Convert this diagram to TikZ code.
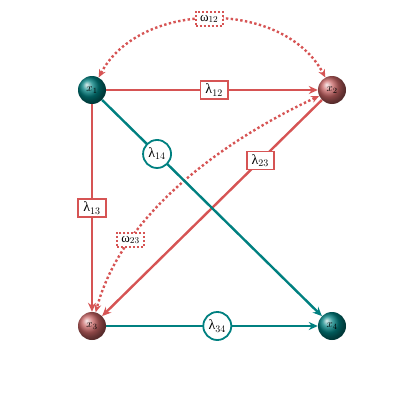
\documentclass[tikz,border=0pt]{standalone}
\usepackage{fontspec}
\newfontfamily\grk{Liberation Serif}
\usetikzlibrary{arrows.meta,shadings}
\definecolor{myred}{RGB}{214,84,84}
\definecolor{myteal}{RGB}{0,128,128}
\definecolor{ballred}{RGB}{200,100,100}
\definecolor{ballteal}{RGB}{0,128,128}
\begin{document}
\begin{tikzpicture}[x=1pt,y=-1pt,
 ball/.style={circle,minimum size=28pt,inner sep=0pt,text=black,font=\fontsize{11}{12}\selectfont},
 tealball/.style={ball,ball color=ballteal},
 redball/.style={ball,ball color=ballred},
 redarrow/.style={draw=myred,line width=2.4pt,-{Stealth[length=9pt,width=8pt]}},
 tealarrow/.style={draw=myteal,line width=2.4pt,-{Stealth[length=9pt,width=8pt]}},
 dotarrow/.style={draw=myred,line width=2.4pt,dash pattern=on 2.4pt off 2.4pt,{Stealth[length=8pt,width=7pt]}-{Stealth[length=8pt,width=7pt]}},
 rlab/.style={draw=myred,fill=white,line width=1.8pt,solid,rectangle,inner xsep=5pt,inner ysep=3pt,font=\fontsize{14}{16}\selectfont},
 tlab/.style={draw=myteal,fill=white,line width=1.8pt,circle,minimum size=28pt,inner sep=1pt,font=\fontsize{14}{16}\selectfont},
 wlab/.style={draw=myred,fill=white,line width=2pt,dash pattern=on 2pt off 2pt,rectangle,inner xsep=4.5pt,inner ysep=3pt,font=\fontsize{13}{15}\selectfont}
]
\useasboundingbox (0,0) rectangle (420,420);
\node[tealball] (x1) at (92,90) {$x_1$};
\node[redball] (x2) at (332,90) {$x_2$};
\node[redball] (x3) at (92,326) {$x_3$};
\node[tealball] (x4) at (332,326) {$x_4$};

\draw[dotarrow] (x1) to[out=62,in=118,looseness=1.0] node[wlab,pos=0.49] (w12) {{\grk ω}$_{12}$} (x2);
\draw[dotarrow] (x2) to[out=205,in=75,looseness=0.85] node[wlab,pos=0.74] (w23) {{\grk ω}$_{23}$} (x3);

\draw[redarrow] (x1) -- node[rlab,pos=0.51] (l12) {{\grk λ}$_{12}$} (x2);
\draw[redarrow] (x1) -- node[rlab,pos=0.5] (l13) {{\grk λ}$_{13}$} (x3);
\draw[redarrow] (x2) -- node[rlab,pos=0.28] (l23) {{\grk λ}$_{23}$} (x3);
\draw[tealarrow] (x1) -- node[tlab,pos=0.25] (l14) {{\grk λ}$_{14}$} (x4);
\draw[tealarrow] (x3) -- node[tlab,pos=0.525] (l34) {{\grk λ}$_{34}$} (x4);
\end{tikzpicture}
\end{document}
